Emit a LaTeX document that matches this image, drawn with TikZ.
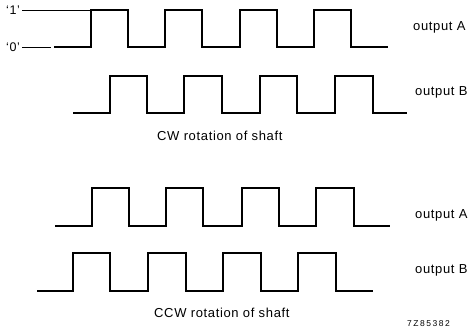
\documentclass[tikz,border=0pt]{standalone}
\usepackage{fontspec}
\setmainfont{Liberation Sans}[LetterSpace=5]
\usetikzlibrary{positioning}
% one square wave: start x, low y, high y, rise/fall pairs, end x
\newcommand{\pulses}[5]{%
  \draw[wave] (#1,#2) \foreach \r/\f in {#4} { -- (\r,#2) -- (\r,#3) -- (\f,#3) -- (\f,#2) } -- (#5,#2);}

\begin{document}
\begin{tikzpicture}[x=1pt,y=-1pt,
  wave/.style={line width=1.5pt},
  level/.style={line width=0.6pt},
  lbl/.style={anchor=base west,inner sep=0pt,font=\fontsize{13}{15}\selectfont}]
  \useasboundingbox (0,0) rectangle (471,332);
  % CW rotation
  \node[lbl,font=\fontsize{12.5}{14}\selectfont] (one) at (6,14) {‘1’};
  \node[lbl,font=\fontsize{12.5}{14}\selectfont] (zero) at (6,51) {‘0’};
  \coordinate (hi) at (90,10);
  \coordinate (lo) at (51,47);
  \draw[level] (one.east |- hi) ++(2,0) -- (hi);
  \draw[level] (zero.east |- lo) ++(2,0) -- (lo);
  \pulses{54}{47}{10}{91/128,165/202,240/277,314/351}{388}
  \pulses{73}{113}{76}{110/147,184/222,260/297,335/373}{407}
  \node[lbl] (cwa) at (413,30) {output A};
  \node[lbl] (cwb) at (415,95) {output B};
  \node[lbl] (cw) at (157,140) {CW rotation of shaft};
  % CCW rotation
  \pulses{55}{226}{188}{92/129,166/203,242/279,316/354}{390}
  \pulses{37}{291}{253}{73/110,148/186,223/261,298/336}{373}
  \node[lbl] (ccwa) at (415,218) {output A};
  \node[lbl] (ccwb) at (415,273) {output B};
  \node[lbl] (ccw) at (154,317) {CCW rotation of shaft};
  \node[lbl,font=\addfontfeatures{LetterSpace=18}\fontsize{8.5}{10}\selectfont] (ref) at (407,326) {7Z85382};
\end{tikzpicture}
\end{document}
